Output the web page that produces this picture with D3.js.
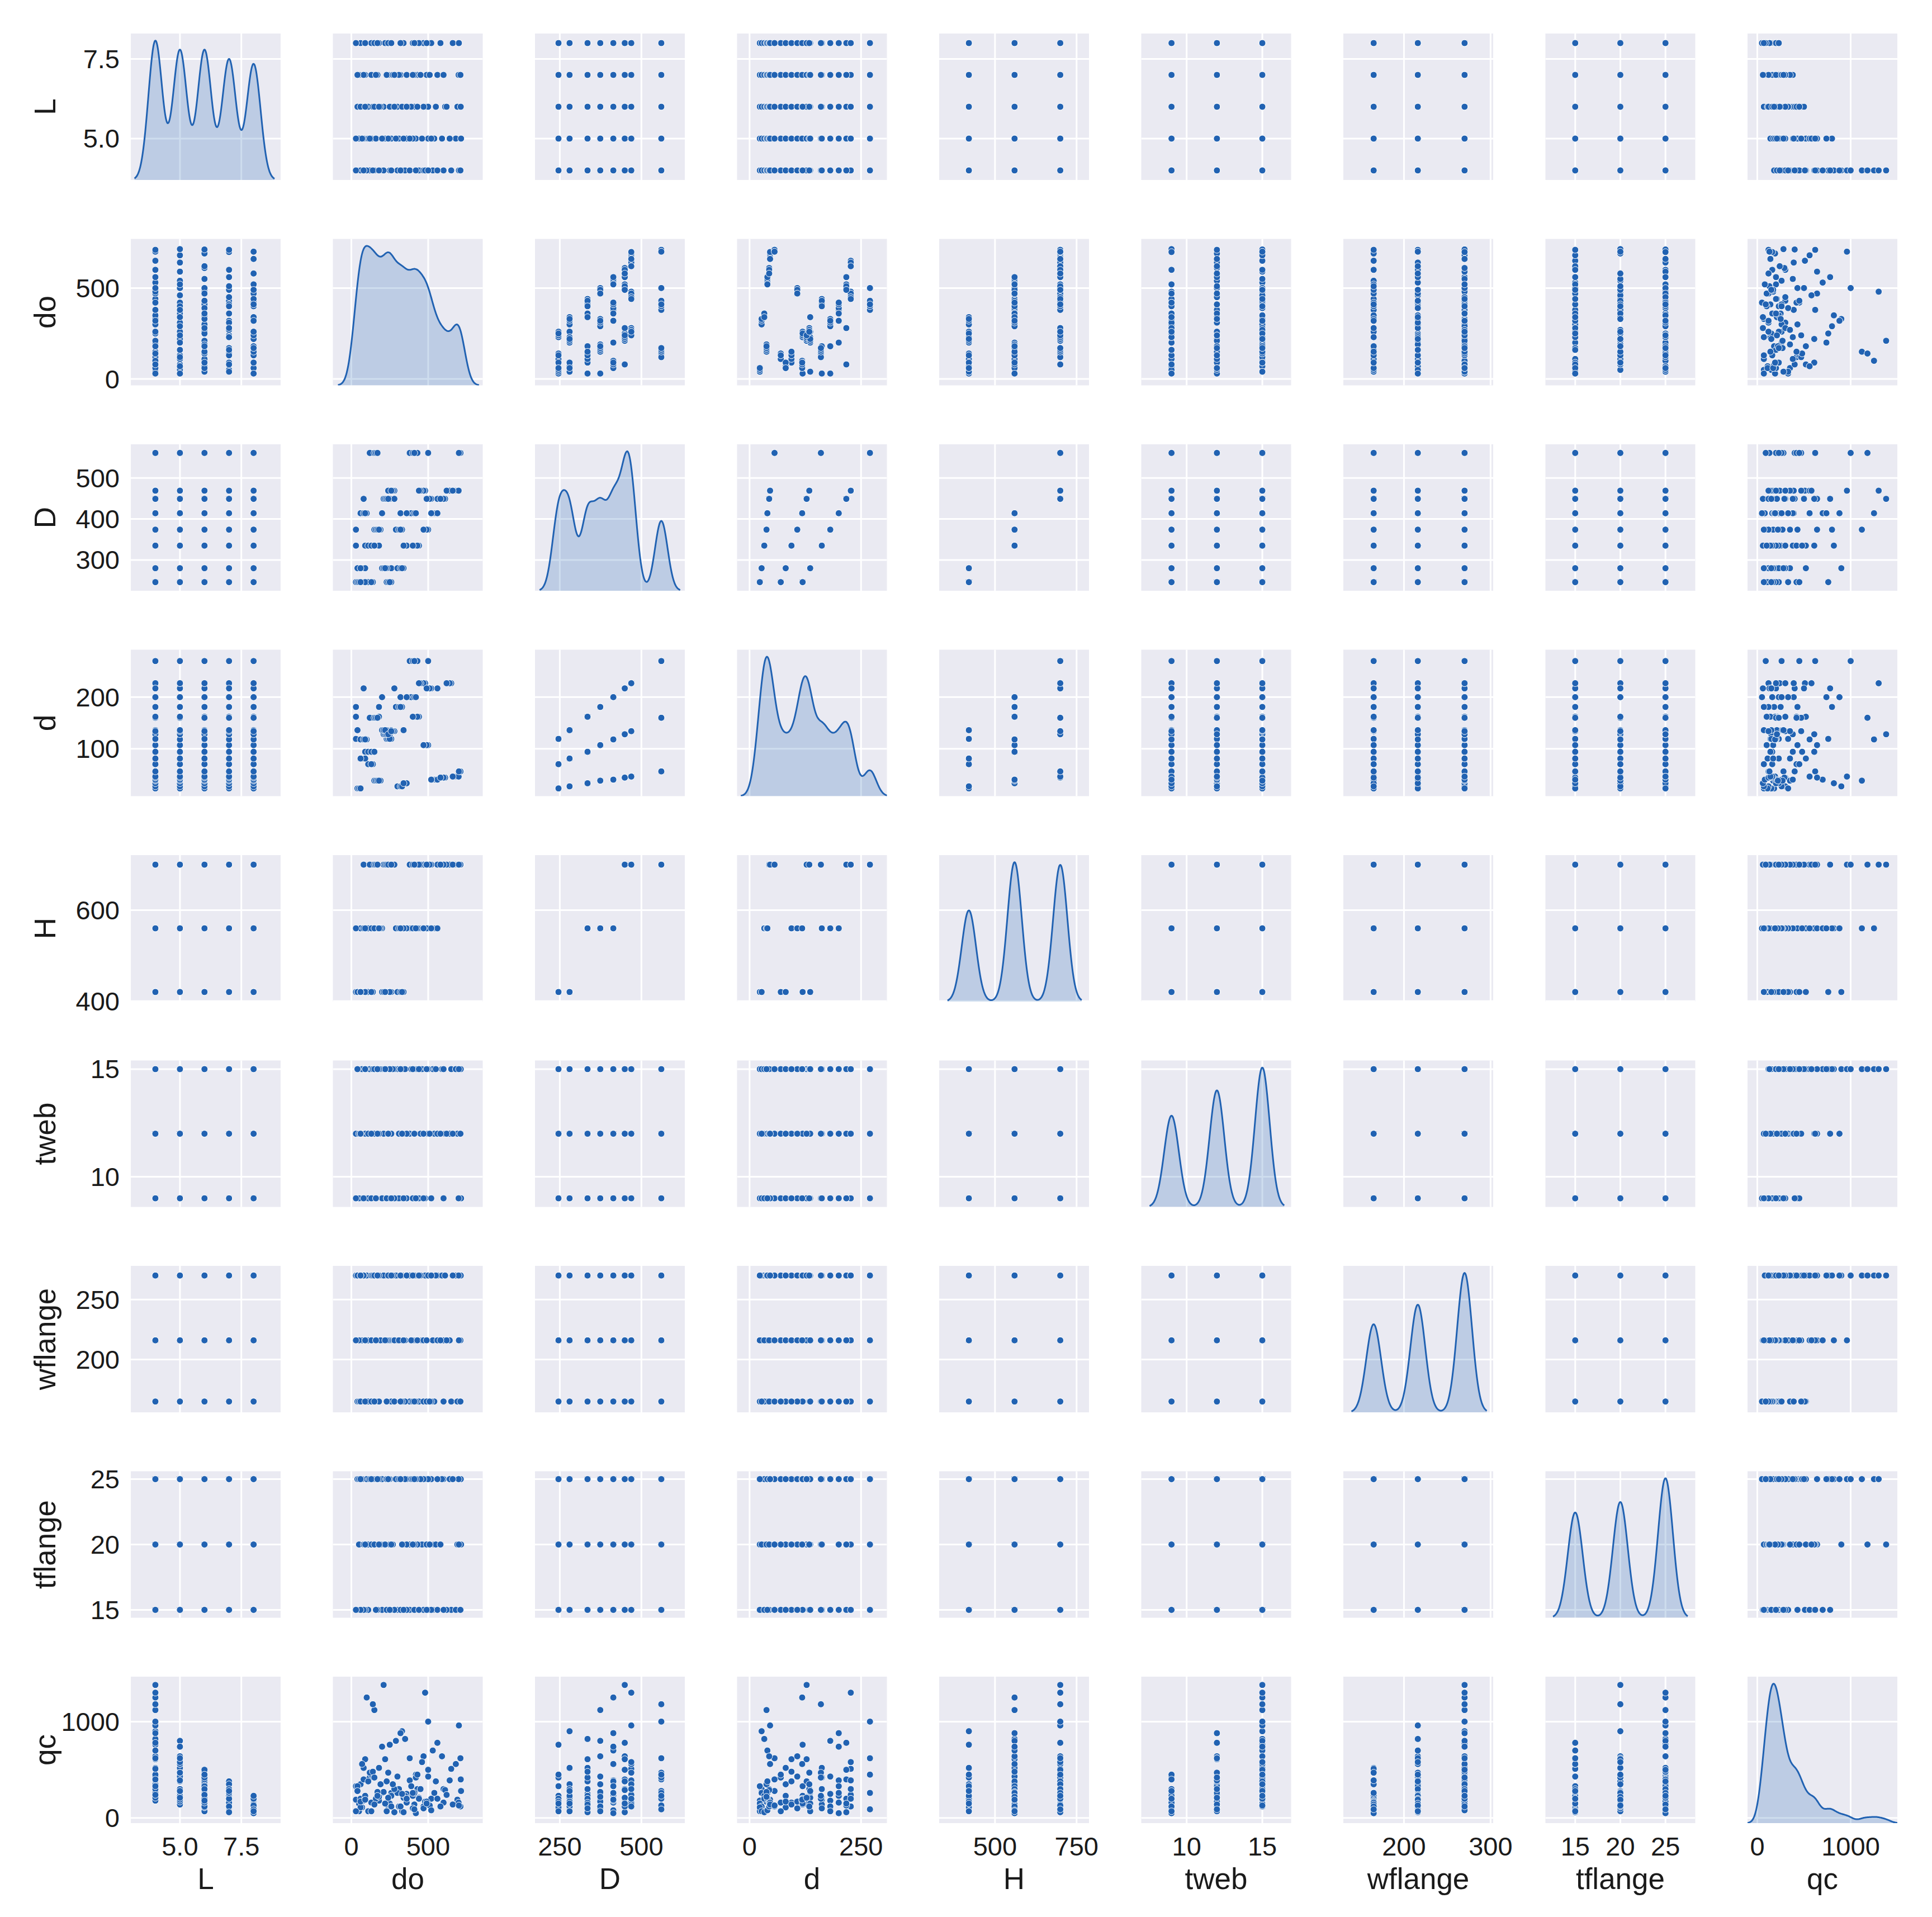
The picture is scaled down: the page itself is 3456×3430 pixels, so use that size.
<!DOCTYPE html>
<html>
<head>
<meta charset="utf-8">
<script src="https://cdn.jsdelivr.net/npm/d3@7"></script>
<style>
  body { margin: 0; background: #fff; }
  text { font-family: "Liberation Sans", Arial, sans-serif; fill: #1a1a1a; }
</style>
</head>
<body>
<svg id="chart" width="3456" height="3430"></svg>
<script>
// variables in the pair plot
const vars = ["L", "do", "D", "d", "H", "tweb", "wflange", "tflange", "qc"];

// x limits per column (diagonal kde sets them), y limits per row
const xLims = [[3.0, 9.1], [-120, 855], [174, 633], [-28, 308], [329, 788], [7.0, 16.9], [130, 303], [11.7, 28.3], [-105, 1500]];
const yLims = [[3.7, 8.3], [-35, 770], [225, 582], [8, 292], [399, 721], [8.6, 15.4], [156, 278], [14.4, 25.6], [-53, 1466]];

const xTicks = [[5.0, 7.5], [0, 500], [250, 500], [0, 250], [500, 750], [10, 15], [200, 300], [15, 20, 25], [0, 1000]];
const yTicks = [[5.0, 7.5], [0, 500], [300, 400, 500], [100, 200], [400, 600], [10, 15], [200, 250], [15, 20, 25], [0, 1000]];
const tickFmt = [".1f", "d", "d", "d", "d", "d", "d", "d", "d"];

// section geometry: D levels, web post depth d (three per D), height H
const geomD = [246, 246, 246, 280, 280, 280, 335, 335, 335, 374, 374, 374,
               414, 414, 414, 449, 449, 449, 469, 469, 469, 561, 561, 561];
const geomd = [23, 70, 119, 27, 81, 136, 33, 94, 162, 38, 107, 181,
               40, 118, 200, 44, 128, 217, 46, 134, 227, 56, 160, 270];
const geomH = [420, 420, 420, 420, 420, 420, 560, 560, 560, 560, 560, 560,
               560, 560, 560, 700, 700, 700, 700, 700, 700, 700, 700, 700];

// samples: [L, do, geometry index, tweb, wflange, tflange, qc]
const samples = [
  [4,40,0,9,165,15,180],[4,120,1,12,216,20,420],[4,250,2,15,270,25,760],[4,330,3,15,270,20,900],
  [4,60,4,12,165,25,350],[4,200,5,9,216,15,260],[4,350,6,15,216,25,820],[4,90,7,12,270,15,610],
  [4,440,8,9,165,20,210],[4,150,9,15,270,25,1120],[4,470,10,12,216,20,640],[4,300,11,9,270,25,430],
  [4,530,12,15,216,15,700],[4,100,13,15,270,25,1250],[4,380,14,12,165,20,390],[4,600,15,9,216,25,300],
  [4,210,16,15,270,20,1380],[4,560,17,12,270,15,780],[4,700,18,15,216,25,960],[4,260,19,9,165,15,240],
  [4,480,20,15,270,25,1300],[4,710,21,12,216,20,620],[4,140,22,15,270,20,1180],[4,420,23,9,216,25,450],
  [4,30,2,12,216,15,330],[4,180,8,15,165,25,520],[4,320,14,12,270,25,880],[4,650,20,15,165,15,510],
  [4,80,17,9,270,20,400],[4,500,23,15,270,25,1000],
  [5,50,0,12,165,20,150],[5,130,1,15,270,25,450],[5,230,2,9,216,15,140],[5,310,3,12,216,25,300],
  [5,80,4,15,270,20,520],[5,260,5,15,165,15,260],[5,360,6,9,270,25,250],[5,110,7,12,216,20,380],
  [5,420,8,15,216,20,420],[5,160,9,9,165,25,170],[5,500,10,12,270,15,430],[5,290,11,15,270,25,800],
  [5,540,12,12,165,20,260],[5,70,13,15,216,15,560],[5,400,14,9,216,20,230],[5,590,15,15,270,25,640],
  [5,220,16,12,270,20,610],[5,520,17,9,165,25,200],[5,680,18,15,270,15,560],[5,240,19,12,216,25,470],
  [5,460,20,15,216,20,580],[5,714,21,9,270,20,280],[5,120,22,15,165,25,470],[5,380,23,12,270,15,620],
  [5,30,8,9,270,15,190],[5,200,14,15,270,25,740],[5,640,20,12,216,25,390],[5,340,5,12,165,20,210],
  [6,40,0,15,270,25,330],[6,110,1,9,165,15,70],[6,260,2,12,270,20,230],[6,300,3,15,216,15,260],
  [6,70,4,9,216,25,110],[6,210,5,12,270,20,270],[6,350,6,15,165,25,230],[6,140,7,15,270,25,480],
  [6,410,8,12,165,15,140],[6,190,9,15,216,20,350],[6,480,10,9,270,25,170],[6,330,11,12,216,15,250],
  [6,550,12,15,270,20,380],[6,60,13,12,165,25,200],[6,390,14,15,216,25,330],[6,610,15,12,270,15,290],
  [6,250,16,9,216,20,150],[6,500,17,15,270,25,500],[6,690,18,12,165,20,190],[6,280,19,15,216,15,300],
  [6,470,20,9,165,25,120],[6,712,21,15,270,25,400],[6,150,22,12,270,20,420],[6,430,23,15,216,20,450],
  [6,90,2,15,165,20,200],[6,360,14,9,270,15,160],[6,620,20,12,216,15,240],[6,180,11,12,165,25,180],
  [7,50,0,9,216,25,70],[7,140,1,15,165,20,160],[7,240,2,12,216,25,170],[7,320,3,9,270,15,120],
  [7,90,4,15,216,15,230],[7,230,5,9,165,25,70],[7,360,6,12,270,20,200],[7,130,7,9,216,20,160],
  [7,430,8,15,270,25,300],[7,170,9,12,270,15,270],[7,490,10,15,165,20,170],[7,310,11,9,216,25,120],
  [7,560,12,12,216,25,200],[7,80,13,9,270,15,180],[7,410,14,12,270,20,260],[7,600,15,15,165,15,160],
  [7,230,16,15,216,25,380],[7,510,17,12,165,20,130],[7,698,18,9,270,25,160],[7,270,19,15,270,20,350],
  [7,450,20,12,270,25,300],[7,710,21,12,165,15,120],[7,160,22,9,216,15,200],[7,400,23,15,165,25,260],
  [7,40,5,15,270,15,280],[7,280,17,9,165,15,60],
  [8,60,0,12,270,15,110],[8,130,1,12,165,25,70],[8,250,2,15,270,15,150],[8,330,3,12,165,20,70],
  [8,60,4,12,270,25,170],[8,220,5,15,216,20,150],[8,340,6,9,216,15,60],[8,150,7,15,165,20,140],
  [8,400,8,9,270,20,100],[8,180,9,15,270,20,220],[8,470,10,12,216,15,100],[8,320,11,15,165,25,120],
  [8,520,12,9,270,15,80],[8,90,13,15,216,20,190],[8,420,14,9,165,25,50],[8,580,15,12,216,20,120],
  [8,240,16,12,270,25,210],[8,490,17,15,216,15,150],[8,660,18,12,270,25,140],[8,260,19,9,270,20,120],
  [8,440,20,15,270,15,200],[8,700,21,15,216,20,130],[8,170,22,15,270,25,230],[8,410,23,12,165,25,90],
  [8,30,11,9,216,15,70]
];

// full records, one column per variable
const rows = samples.map(s => [s[0], s[1], geomD[s[2]], geomd[s[2]], geomH[s[2]], s[3], s[4], s[5], s[6]]);

const color = "#2162b2";
const left = 234, top0 = 60, pitchX = 361.5, pitchY = 367.5, pw = 268, ph = 262;

const svg = d3.select("#chart");
const n = vars.length;

function kde(values, bw, grid) {
  return grid.map(x => [x, d3.mean(values, v => Math.exp(-0.5 * ((x - v) / bw) ** 2))]);
}

for (let r = 0; r < n; r++) {
  for (let c = 0; c < n; c++) {
    const gx = left + c * pitchX, gy = top0 + r * pitchY;
    const g = svg.append("g").attr("transform", `translate(${gx},${gy})`);
    const x = d3.scaleLinear().domain(xLims[c]).range([0, pw]);
    const y = d3.scaleLinear().domain(yLims[r]).range([ph, 0]);

    g.append("rect").attr("width", pw).attr("height", ph).attr("fill", "#eaeaf2");
    g.append("clipPath").attr("id", `clip${r}_${c}`)
      .append("rect").attr("width", pw).attr("height", ph);

    g.selectAll(".vx").data(xTicks[c]).enter().append("line")
      .attr("x1", d => x(d)).attr("x2", d => x(d)).attr("y1", 0).attr("y2", ph)
      .attr("stroke", "#fff").attr("stroke-width", 3);

    const body = g.append("g").attr("clip-path", `url(#clip${r}_${c})`);

    if (r === c) {
      const vals = rows.map(d => d[c]);
      const bw = d3.deviation(vals) * 0.2;
      const grid = d3.range(0, 301).map(i => d3.min(vals) - 3 * bw + i * (d3.max(vals) - d3.min(vals) + 6 * bw) / 300);
      const dens = kde(vals, bw, grid);
      const yk = d3.scaleLinear().domain([0, d3.max(dens, d => d[1]) * 1.05]).range([ph, 0]);
      g.selectAll(".hy").data(yTicks[r]).enter().append("line")
        .attr("x1", 0).attr("x2", pw).attr("y1", d => y(d)).attr("y2", d => y(d))
        .attr("stroke", "#fff").attr("stroke-width", 3);
      body.raise();
      body.append("path").datum(dens)
        .attr("d", d3.area().x(d => x(d[0])).y0(ph).y1(d => yk(d[1])).curve(d3.curveBasis))
        .attr("fill", color).attr("fill-opacity", 0.22);
      body.append("path").datum(dens)
        .attr("d", d3.line().x(d => x(d[0])).y(d => yk(d[1])).curve(d3.curveBasis))
        .attr("fill", "none").attr("stroke", color).attr("stroke-width", 3);
    } else {
      body.selectAll(".hy").data(yTicks[r]).enter().append("line")
        .attr("x1", 0).attr("x2", pw).attr("y1", d => y(d)).attr("y2", d => y(d))
        .attr("stroke", "#fff").attr("stroke-width", 3);
      body.selectAll("circle").data(rows).enter().append("circle")
        .attr("cx", d => x(d[c])).attr("cy", d => y(d[r])).attr("r", 6)
        .attr("fill", color).attr("stroke", "#fff").attr("stroke-width", 1);
    }

    if (c === 0) {
      g.selectAll(".ty").data(yTicks[r]).enter().append("text")
        .attr("x", -20).attr("y", d => y(d)).attr("dy", "0.35em")
        .attr("text-anchor", "end").attr("font-size", 47)
        .text(d => d3.format(tickFmt[r])(d));
      g.append("text")
        .attr("transform", `translate(-135,${ph / 2}) rotate(-90)`)
        .attr("text-anchor", "middle").attr("font-size", 53)
        .text(vars[r]);
    }
    if (r === n - 1) {
      g.selectAll(".tx").data(xTicks[c]).enter().append("text")
        .attr("x", d => x(d)).attr("y", ph + 58)
        .attr("text-anchor", "middle").attr("font-size", 47)
        .text(d => d3.format(tickFmt[c])(d));
      g.append("text")
        .attr("x", pw / 2).attr("y", ph + 118)
        .attr("text-anchor", "middle").attr("font-size", 53)
        .text(vars[c]);
    }
  }
}
</script>
</body>
</html>
